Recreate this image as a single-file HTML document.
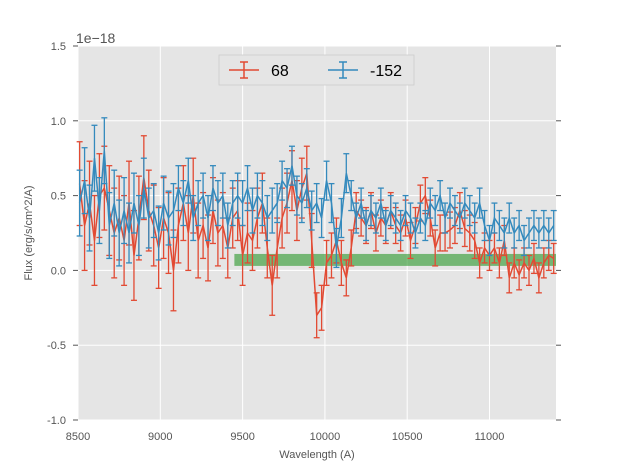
<!DOCTYPE html>
<html><head><meta charset="utf-8"><style>
html,body{margin:0;padding:0;background:#fff;}
svg{display:block;font-family:"Liberation Sans",sans-serif;}
</style></head><body>
<svg id="chart" width="617" height="467" viewBox="0 0 617 467" xmlns="http://www.w3.org/2000/svg">
<rect x="78" y="46" width="478" height="374" fill="#e5e5e5"/>
<g id="grid"></g>
<rect id="band" fill="rgb(40,150,40)" fill-opacity="0.6"/>
<g id="series"></g>
<g id="axes"></g>
<text x="76" y="43" font-size="14" fill="#555">1e−18</text>
<text x="317" y="458" font-size="11" fill="#555" text-anchor="middle">Wavelength (A)</text>
<text x="32" y="233" font-size="11" fill="#555" text-anchor="middle" transform="rotate(-90 32 233)">Flux (erg/s/cm^2/A)</text>
<g>
<rect x="219" y="55" width="195" height="30" fill="#e5e5e5" stroke="#ccc" stroke-width="0.8"/>
<g stroke="#E24A33" stroke-width="1.5"><line x1="229" y1="70" x2="259" y2="70"/><line x1="244" y1="62" x2="244" y2="78"/><line x1="240" y1="62" x2="248" y2="62"/><line x1="240" y1="78" x2="248" y2="78"/></g>
<text x="271" y="76" font-size="16" fill="#000">68</text>
<g stroke="#348ABD" stroke-width="1.5"><line x1="328" y1="70" x2="358" y2="70"/><line x1="343" y1="62" x2="343" y2="78"/><line x1="339" y1="62" x2="347" y2="62"/><line x1="339" y1="78" x2="347" y2="78"/></g>
<text x="370" y="76" font-size="16" fill="#000">-152</text>
</g>
</svg>
<script>
const redVals=[.58,.30,.45,.20,.50,.55,.40,.25,.35,.20,.45,.10,.35,.62,.40,.30,.15,.35,.25,.00,.30,.45,.25,.50,.20,.30,.15,.40,.25,.30,.15,.35,.40,.10,.25,.20,.35,.45,.15,-.10,.15,.35,.45,.60,.40,.55,.65,.20,-.30,-.25,.05,.10,.20,.05,-.05,.15,.40,.35,.30,.40,.25,.35,.30,.40,.30,.25,.35,.20,.30,.45,.50,.35,.15,.25,.25,.27,.30,.40,.28,.25,.20,.05,.15,.10,.15,.05,.20,-.05,.05,-.03,.05,.00,.08,-.05,.05,.10,.08];
const redErr=[.28,.3,.28,.3,.28,.28,.3,.3,.28,.3,.28,.3,.28,.28,.27,.27,.27,.27,.27,.27,.25,.25,.25,.25,.25,.22,.22,.22,.22,.22,.2,.2,.2,.2,.2,.2,.2,.2,.2,.2,.2,.2,.2,.2,.2,.2,.18,.18,.15,.15,.15,.15,.15,.15,.12,.12,.12,.12,.12,.12,.12,.12,.12,.12,.12,.12,.12,.12,.12,.12,.12,.12,.12,.12,.12,.12,.12,.12,.12,.12,.12,.1,.1,.1,.1,.1,.1,.1,.1,.1,.1,.1,.1,.1,.1,.1,.1];
const blueVals=[.45,.60,.35,.75,.40,.80,.30,.45,.25,.40,.25,.45,.30,.55,.35,.40,.25,.45,.35,.40,.55,.45,.60,.35,.45,.50,.35,.55,.45,.50,.30,.45,.50,.45,.55,.40,.50,.45,.35,.40,.45,.60,.55,.70,.50,.45,.55,.40,.45,.35,.60,.45,.15,.35,.65,.50,.35,.45,.30,.40,.35,.45,.30,.40,.35,.30,.40,.35,.25,.35,.30,.45,.40,.50,.35,.45,.40,.35,.45,.40,.35,.45,.30,.20,.35,.30,.25,.35,.25,.30,.20,.25,.30,.25,.30,.25,.30];
const blueErr=[.22,.22,.22,.22,.22,.22,.22,.22,.22,.22,.2,.2,.2,.2,.2,.18,.18,.18,.18,.18,.15,.15,.15,.15,.15,.15,.15,.15,.15,.15,.15,.15,.15,.15,.15,.15,.15,.15,.15,.15,.13,.13,.13,.13,.13,.13,.13,.13,.13,.13,.13,.13,.13,.13,.13,.1,.1,.1,.1,.1,.1,.1,.1,.1,.1,.1,.1,.1,.1,.1,.1,.1,.1,.1,.1,.1,.1,.1,.1,.1,.1,.1,.1,.1,.1,.1,.1,.1,.1,.1,.1,.1,.1,.1,.1,.1,.1];
const waveStart=8510, waveEnd=11390;
const xTicks=[8500,9000,9500,10000,10500,11000];
const yTicks=[-1.0,-0.5,0.0,0.5,1.0,1.5];
const band=[9450,11404,0.03,0.11];
const NS='http://www.w3.org/2000/svg';
const X=v=>78+(v-8500)/(11404-8500)*478;
const Y=v=>420-(v+1)/2.5*374;
function mk(tag,attrs,parent){const e=document.createElementNS(NS,tag);for(const k in attrs)e.setAttribute(k,attrs[k]);parent.appendChild(e);return e;}
const grid=document.getElementById('grid'),axes=document.getElementById('axes'),ser=document.getElementById('series');
xTicks.forEach(t=>{
 const l=mk('line',{x1:X(t),x2:X(t),y1:46,y2:420,stroke:'#fff','stroke-width':1},grid);
 
 
 const tx=mk('text',{x:X(t),y:440,'font-size':11,fill:'#555','text-anchor':'middle'},axes);
 tx.textContent=t;
 
 
});
yTicks.forEach(t=>{
 const l=mk('line',{x1:78,x2:556,y1:Y(t),y2:Y(t),stroke:'#fff','stroke-width':1},grid);
 
 
 mk('line',{x1:556,x2:561,y1:Y(t),y2:Y(t),stroke:'#555','stroke-width':1},axes);
 mk('line',{x1:73,x2:78,y1:Y(t),y2:Y(t),stroke:'#555','stroke-width':1},axes);
 const tx=mk('text',{x:66,y:Y(t)+4,'font-size':11,fill:'#555','text-anchor':'end'},axes);
 tx.textContent=t.toFixed(1);
 
 
});
const b=document.getElementById('band');
b.setAttribute('x',X(band[0]));b.setAttribute('width',X(band[1])-X(band[0]));
b.setAttribute('y',Y(band[3]));b.setAttribute('height',Y(band[2])-Y(band[3]));
function draw(vals,errs,color,name){
 const g=mk('g',{},ser);
 
 
 const n=vals.length,step=(waveEnd-waveStart)/(n-1);
 let d='';
 vals.forEach((v,i)=>{
  const x=X(waveStart+i*step),e=errs[i];
  const y1=Y(v-e),y2=Y(v+e);
  mk('line',{x1:x,x2:x,y1:y1,y2:y2,stroke:color,'stroke-width':1.3},g);
  mk('line',{x1:x-3,x2:x+3,y1:y1,y2:y1,stroke:color,'stroke-width':1.3},g);
  mk('line',{x1:x-3,x2:x+3,y1:y2,y2:y2,stroke:color,'stroke-width':1.3},g);
  d+=(i?'L':'M')+x.toFixed(1)+' '+Y(v).toFixed(1);
 });
 const p=mk('path',{d:d,fill:'none',stroke:color,'stroke-width':1.5},g);
 
 
}
draw(redVals,redErr,'#E24A33','series-68');
draw(blueVals,blueErr,'#348ABD','series-152');
</script>
</body></html>
